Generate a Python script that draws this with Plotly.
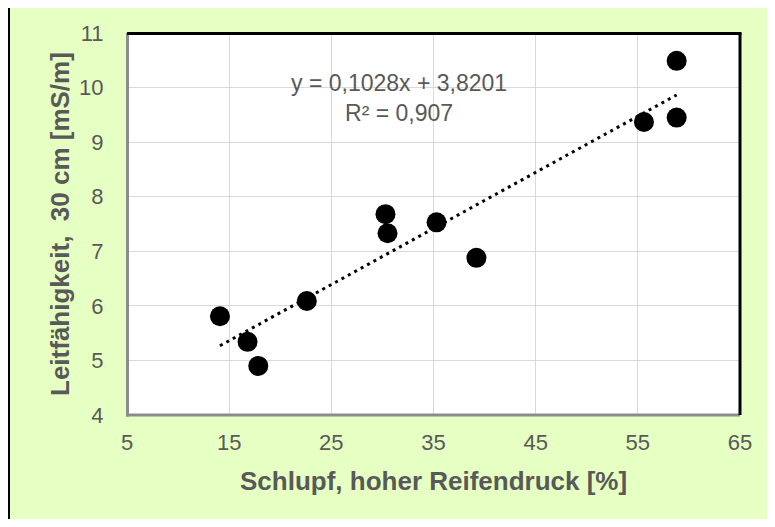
import plotly.graph_objects as go

# Data
schlupf = [14.1, 16.8, 17.85, 22.6, 30.3, 30.5, 35.3, 39.2, 55.6, 58.8, 58.8]
leitfaehigkeit = [5.81, 5.34, 4.90, 6.09, 7.68, 7.33, 7.53, 6.88, 9.37, 10.49, 9.45]
slope = 0.1028
intercept = 3.8201
r2_text = "R² = 0,907"
eq_text = "y = 0,1028x + 3,8201"
x_ticks = [5, 15, 25, 35, 45, 55, 65]
y_ticks = [4, 5, 6, 7, 8, 9, 10, 11]

OFF = 8  # page body margin
W, H = 775 - OFF, 527 - 2 * OFF
L, R, T, B = 127 - OFF, 740 - OFF, 33 - OFF, 415 - OFF  # plot area in figure pixels
pw, ph = R - L, B - T

def px(x):
    return (x - OFF - L) / pw

def py(y):
    return (B - (y - OFF)) / ph

BG = "rgb(230,255,194)"
TXT = "#595959"
FONT = "Liberation Sans, Arial, sans-serif"

fig = go.Figure()

x0, x1 = min(schlupf), max(schlupf)
fig.add_trace(go.Scatter(
    x=[x0, x1], y=[slope * x0 + intercept, slope * x1 + intercept],
    mode="lines", line=dict(color="black", width=3, dash="3px,4.3px"),
    hoverinfo="skip", showlegend=False))

fig.add_trace(go.Scatter(
    x=schlupf, y=leitfaehigkeit, mode="markers",
    marker=dict(color="black", size=20, line=dict(width=0)),
    showlegend=False))

RL, RR, RT, RB = 127, 740, 33, 415  # plot area in reference pixels
shapes = [
    dict(type="rect", xref="paper", yref="paper", layer="below",
         x0=px(8.5), x1=px(1200), y0=py(900), y1=py(5.5),
         fillcolor=BG, line=dict(width=0)),
    dict(type="line", xref="paper", yref="paper", layer="below",
         x0=px(8.5), x1=px(8.5), y0=py(900), y1=py(4), line=dict(color="black", width=3)),
    dict(type="line", xref="paper", yref="paper", layer="below",
         x0=px(7), x1=px(1200), y0=py(5.5), y1=py(5.5), line=dict(color="black", width=3)),
    dict(type="rect", xref="paper", yref="paper", layer="below",
         x0=0, x1=1, y0=0, y1=1, fillcolor="white", line=dict(width=0)),
    dict(type="line", xref="paper", yref="paper", layer="above",
         x0=px(RL + 0.5), x1=px(RL + 0.5), y0=py(RB + 1.5), y1=py(RT), line=dict(color="#8c8c8c", width=3)),
    dict(type="line", xref="paper", yref="paper", layer="above",
         x0=px(RL - 1), x1=px(RR), y0=py(RB), y1=py(RB), line=dict(color="#8c8c8c", width=3)),
    dict(type="line", xref="paper", yref="paper", layer="above",
         x0=px(RL), x1=px(RR + 1.5), y0=py(RT + 0.5), y1=py(RT + 0.5), line=dict(color="black", width=3)),
    dict(type="line", xref="paper", yref="paper", layer="above",
         x0=px(RR), x1=px(RR), y0=py(RB), y1=py(RT), line=dict(color="black", width=3)),
]

annotations = [
    dict(xref="paper", yref="paper", x=px(399), y=py(97.5), xanchor="center", yanchor="middle",
         text=eq_text + "<br>" + r2_text, showarrow=False, align="center",
         font=dict(family=FONT, size=23, color=TXT)),
    dict(xref="paper", yref="paper", x=px(433), y=py(481), xanchor="center", yanchor="middle",
         text="<b>Schlupf, hoher Reifendruck [%]</b>", showarrow=False,
         font=dict(family=FONT, size=26, color=TXT)),
    dict(xref="paper", yref="paper", x=px(60), y=py(224), xanchor="center", yanchor="middle",
         text="<b>Leitfähigkeit,  30 cm [mS/m]</b>", showarrow=False, textangle=-90,
         font=dict(family=FONT, size=26, color=TXT)),
]

fig.update_layout(
    width=W, height=H,
    margin=dict(l=L, r=W - R, t=T, b=H - B, pad=0),
    paper_bgcolor="white", plot_bgcolor="rgba(0,0,0,0)",
    shapes=shapes, annotations=annotations,
    font=dict(family=FONT, color=TXT),
    xaxis=dict(range=[5, 65], tickvals=x_ticks, ticktext=[str(v) for v in x_ticks],
               showgrid=True, gridcolor="#D9D9D9", gridwidth=1, zeroline=False,
               showline=False, ticks="outside", ticklen=8, tickcolor="rgba(0,0,0,0)",
               tickfont=dict(family=FONT, size=22, color=TXT), fixedrange=True),
    yaxis=dict(range=[4, 11], tickvals=y_ticks, ticktext=[str(v) for v in y_ticks],
               showgrid=True, gridcolor="#D9D9D9", gridwidth=1, zeroline=False,
               showline=False, ticks="outside", ticklen=18, tickcolor="rgba(0,0,0,0)",
               tickfont=dict(family=FONT, size=22, color=TXT), fixedrange=True),
)

fig.write_html("out.html")
